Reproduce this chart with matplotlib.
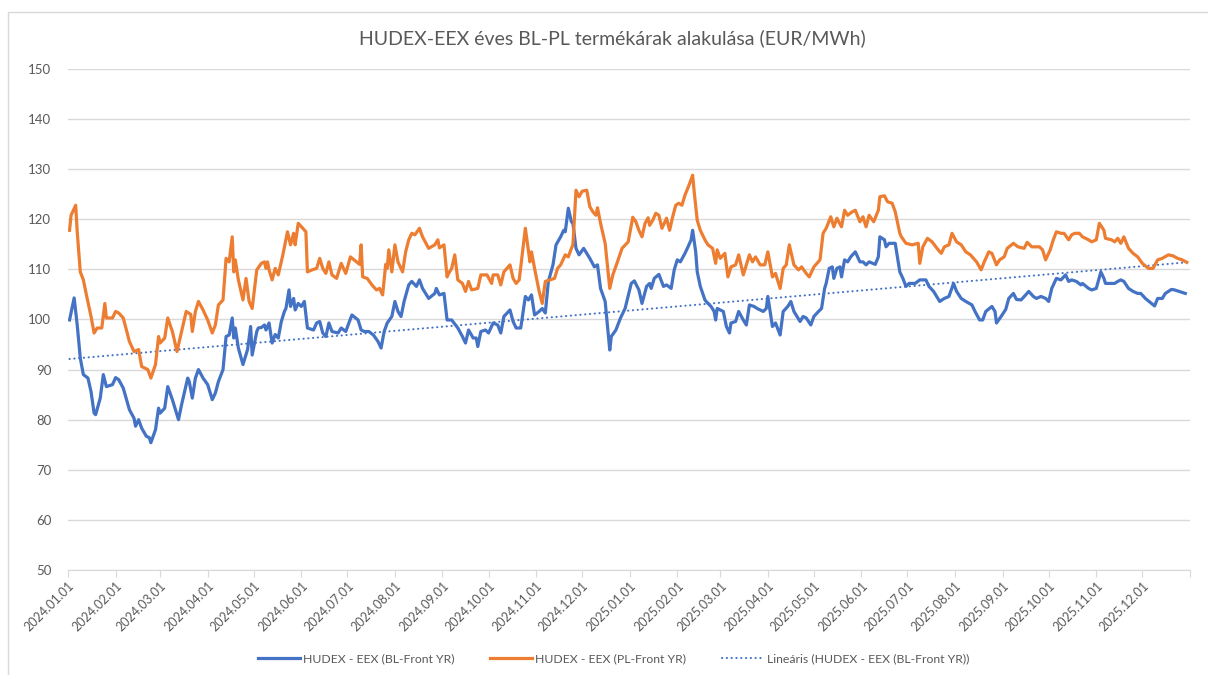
import numpy as np
import matplotlib
matplotlib.use("Agg")
import matplotlib.pyplot as plt
import matplotlib.dates as mdates
from matplotlib.patches import Rectangle

# data (day offset from 2024-01-01, EUR/MWh)
bl_days = [1, 4, 6, 8, 10, 13, 15, 17, 18, 21, 23, 25, 29, 31, 33, 36, 40, 43, 44, 46, 48, 51, 53, 54, 57, 59,
           60, 63, 65, 68, 72, 74, 78, 79, 81, 83, 85, 88, 91, 94, 96, 98, 101, 103, 105, 107, 108, 109, 111,
           114, 117, 119, 120, 123, 124, 126, 128, 129, 131, 133, 135, 137, 139, 141, 142, 144, 145, 147, 148,
           150, 152, 154, 156, 160, 162, 164, 166, 168, 170, 172, 176, 178, 181, 183, 185, 189, 191, 193, 196,
           199, 202, 204, 206, 208, 211, 213, 215, 217, 219, 222, 224, 227, 229, 231, 235, 239, 240, 242, 245,
           247, 250, 254, 257, 259, 261, 264, 266, 267, 269, 272, 274, 277, 280, 282, 284, 288, 290, 292, 295,
           298, 300, 302, 304, 307, 309, 311, 313, 316, 318, 321, 323, 324, 326, 328, 329, 331, 333, 336, 340,
           343, 345, 347, 350, 353, 354, 357, 360, 363, 367, 369, 372, 374, 377, 379, 380, 382, 385, 388, 390,
           393, 395, 397, 399, 402, 404, 406, 407, 409, 410, 412, 415, 417, 419, 421, 422, 423, 427, 429, 431,
           432, 435, 437, 440, 442, 444, 447, 449, 453, 455, 456, 459, 461, 464, 466, 469, 471, 473, 477, 479,
           481, 484, 486, 489, 491, 493, 494, 496, 498, 499, 501, 503, 504, 506, 508, 510, 513, 516, 518, 520,
           522, 526, 528, 529, 532, 533, 535, 539, 542, 544, 546, 548, 552, 555, 559, 561, 564, 568, 571, 574,
           577, 579, 582, 585, 589, 591, 594, 596, 598, 602, 604, 605, 608, 611, 613, 616, 618, 621, 624, 626,
           629, 631, 634, 637, 639, 641, 644, 647, 650, 652, 654, 657, 660, 661, 665, 667, 670, 673, 675, 676,
           680, 682, 684, 686, 688, 691, 694, 697, 699, 702, 706, 708, 710, 713, 715, 719, 721, 724, 728]
bl_vals = [99.9, 104.3, 98.9, 92.3, 89.0, 88.3, 85.6, 81.3, 81.0, 84.3, 89.0, 86.6, 87.0, 88.4, 88.0, 86.3,
           82.0, 80.3, 78.7, 80.0, 78.3, 76.7, 76.4, 75.4, 78.0, 82.3, 81.3, 82.3, 86.6, 84.0, 80.0, 83.0, 88.3,
           87.6, 84.3, 88.3, 90.0, 88.3, 87.0, 84.0, 85.3, 87.6, 90.0, 96.6, 96.9, 100.3, 96.3, 98.3, 94.3, 91.0,
           94.0, 98.6, 92.9, 97.6, 98.3, 98.4, 98.9, 97.9, 99.3, 95.3, 97.0, 96.3, 99.6, 101.6, 102.2, 105.9,
           102.6, 104.2, 101.9, 103.2, 102.6, 103.6, 98.3, 97.9, 99.3, 99.6, 97.3, 96.6, 99.3, 97.6, 97.3, 98.3,
           97.6, 99.3, 100.9, 99.9, 97.9, 97.6, 97.6, 96.9, 95.6, 94.3, 97.6, 99.3, 100.6, 103.6, 101.6, 100.6,
           103.6, 106.9, 107.6, 106.6, 107.9, 106.2, 104.2, 105.2, 106.2, 104.9, 105.2, 99.9, 99.9, 98.3, 96.6,
           95.3, 97.9, 96.3, 96.3, 94.6, 97.6, 97.9, 97.3, 99.3, 98.9, 97.3, 100.6, 101.9, 99.6, 98.3, 98.3,
           104.6, 103.9, 104.9, 100.9, 101.6, 102.2, 101.3, 107.6, 110.9, 114.9, 116.5, 117.8, 117.5, 122.2,
           119.5, 119.2, 114.2, 112.9, 114.2, 112.2, 110.5, 110.9, 106.2, 103.6, 93.9, 96.6, 97.9, 100.3, 102.2,
           107.2, 107.7, 105.9, 103.2, 106.6, 107.2, 106.2, 108.2, 109.0, 106.6, 106.9, 106.2, 109.9, 111.9,
           111.5, 113.2, 114.5, 115.9, 117.8, 113.5, 109.5, 106.6, 103.9, 103.2, 102.6, 101.6, 99.9, 102.2,
           101.6, 98.6, 97.3, 99.3, 99.6, 101.6, 99.9, 98.9, 102.9, 102.6, 102.2, 101.6, 102.2, 104.6, 98.6,
           99.3, 96.9, 101.6, 102.6, 103.6, 101.6, 99.6, 100.6, 100.3, 98.9, 100.6, 101.6, 102.2, 106.2, 107.2,
           110.2, 110.5, 108.2, 110.2, 110.5, 108.5, 111.9, 111.5, 112.5, 113.5, 111.5, 111.5, 110.9, 111.5,
           111.0, 112.5, 116.5, 115.9, 114.5, 115.2, 115.2, 109.5, 108.2, 106.6, 107.2, 107.2, 107.9, 107.9,
           106.6, 105.6, 103.6, 104.2, 104.6, 107.2, 105.6, 104.2, 103.6, 102.9, 101.6, 99.9, 99.9, 101.6, 102.6,
           101.6, 99.3, 100.6, 102.0, 104.2, 105.2, 104.0, 103.9, 104.9, 105.6, 104.6, 104.2, 104.6, 104.2,
           103.6, 106.2, 108.2, 107.9, 108.9, 107.6, 107.9, 107.6, 106.9, 107.2, 106.2, 105.9, 106.2, 109.5,
           108.2, 107.2, 107.2, 107.2, 107.6, 107.9, 107.6, 106.2, 105.6, 105.2, 105.2, 104.2, 103.2, 102.7,
           104.2, 104.2, 105.2, 106.0, 105.9, 105.6, 105.2]

pl_days = [1, 2, 5, 6, 8, 10, 12, 15, 17, 19, 22, 24, 25, 29, 31, 33, 36, 40, 43, 46, 48, 52, 54, 57, 59, 60,
           63, 65, 68, 71, 73, 77, 80, 81, 83, 85, 88, 91, 94, 96, 98, 101, 103, 105, 107, 108, 109, 111, 114,
           116, 118, 120, 123, 126, 128, 129, 130, 131, 133, 135, 137, 140, 143, 145, 147, 148, 150, 153, 155,
           156, 159, 162, 164, 166, 168, 170, 172, 175, 178, 181, 184, 188, 190, 191, 192, 195, 198, 201, 203,
           205, 207, 208, 209, 211, 213, 215, 218, 220, 222, 224, 226, 229, 231, 235, 239, 241, 242, 245, 247,
           248, 250, 252, 254, 257, 259, 261, 263, 267, 269, 273, 276, 277, 280, 282, 284, 288, 290, 292, 294,
           298, 301, 302, 304, 307, 309, 311, 314, 317, 319, 321, 324, 326, 328, 329, 331, 333, 335, 338, 340,
           342, 344, 345, 347, 350, 353, 355, 358, 361, 365, 368, 370, 372, 374, 376, 378, 379, 381, 383, 385,
           387, 390, 392, 394, 396, 398, 400, 402, 405, 407, 408, 410, 412, 415, 417, 420, 422, 423, 425, 428,
           430, 432, 435, 437, 440, 442, 444, 446, 448, 451, 454, 456, 459, 461, 464, 466, 468, 470, 473, 476,
           478, 481, 483, 486, 490, 492, 494, 497, 499, 501, 504, 506, 508, 511, 513, 516, 518, 520, 522, 525,
           528, 529, 532, 534, 537, 539, 542, 543, 546, 550, 554, 555, 557, 560, 563, 567, 569, 571, 574, 576,
           579, 582, 585, 588, 592, 595, 597, 600, 602, 605, 607, 610, 612, 616, 619, 623, 625, 628, 630, 633,
           635, 637, 640, 642, 644, 647, 649, 652, 654, 656, 659, 661, 665, 667, 670, 672, 675, 676, 680, 682,
           684, 686, 688, 691, 694, 697, 700, 704, 707, 710, 713, 717, 720, 723, 726, 729]
pl_vals = [117.8, 120.8, 122.8, 117.5, 109.5, 107.9, 104.9, 100.6, 97.3, 98.3, 98.3, 103.2, 100.3, 100.3,
           101.6, 101.3, 100.3, 95.6, 93.6, 94.0, 90.6, 90.0, 88.3, 91.0, 96.6, 95.3, 96.3, 100.3, 97.6, 93.6,
           96.3, 101.6, 101.0, 97.6, 101.6, 103.6, 101.9, 99.9, 97.3, 98.9, 102.9, 103.9, 112.2, 111.5, 116.5,
           109.5, 111.9, 107.9, 103.9, 108.2, 103.6, 102.2, 109.9, 111.2, 111.5, 110.2, 111.5, 109.9, 107.9,
           110.2, 108.9, 112.9, 117.5, 114.9, 117.2, 114.9, 119.2, 118.2, 117.5, 109.5, 109.9, 110.2, 112.2,
           110.2, 109.2, 111.5, 108.9, 108.2, 111.2, 109.2, 112.5, 111.5, 111.0, 114.9, 108.5, 108.2, 106.9,
           105.9, 106.2, 104.9, 111.0, 110.2, 113.9, 109.5, 114.9, 111.5, 109.5, 113.5, 115.9, 117.2, 116.9,
           118.2, 116.5, 114.2, 114.9, 115.9, 114.3, 114.9, 108.5, 109.2, 110.2, 112.9, 107.9, 107.2, 105.6,
           107.6, 105.9, 106.2, 108.9, 108.9, 107.2, 108.9, 108.9, 106.9, 109.5, 110.9, 108.2, 107.2, 107.9,
           118.2, 111.5, 113.5, 110.2, 105.6, 103.2, 107.6, 107.9, 108.2, 110.2, 110.9, 112.9, 112.5, 114.2,
           114.9, 125.8, 124.5, 125.6, 125.8, 122.5, 121.5, 120.8, 122.3, 119.2, 115.2, 106.2, 108.9, 111.5,
           114.2, 115.5, 120.4, 119.5, 117.8, 116.5, 119.2, 120.3, 118.8, 119.8, 121.2, 120.8, 118.2, 120.2,
           117.8, 120.5, 122.8, 123.2, 122.8, 124.8, 127.1, 128.8, 125.5, 119.8, 117.8, 115.9, 114.9, 114.2,
           111.2, 113.9, 112.2, 113.2, 108.5, 110.5, 110.9, 112.9, 108.9, 110.9, 112.9, 111.5, 112.5, 110.9,
           110.9, 113.5, 108.5, 109.2, 106.2, 110.2, 110.9, 114.9, 110.9, 109.9, 110.5, 109.2, 108.5, 110.5,
           111.9, 117.2, 118.2, 120.5, 118.5, 120.2, 118.5, 121.8, 120.8, 121.5, 121.8, 119.5, 120.5, 118.5,
           120.8, 119.5, 121.8, 124.5, 124.7, 123.5, 123.2, 121.5, 117.2, 116.5, 115.2, 114.9, 115.2, 111.2,
           114.5, 116.2, 115.5, 113.9, 113.2, 114.5, 114.9, 117.2, 115.5, 114.9, 113.5, 112.9, 111.5, 109.9,
           111.5, 113.5, 113.2, 110.9, 111.9, 112.5, 114.2, 115.2, 114.5, 114.2, 115.4, 114.5, 114.5, 114.5,
           113.9, 111.9, 113.9, 115.9, 117.5, 117.2, 117.2, 115.9, 116.9, 117.2, 117.2, 116.5, 115.9, 115.5,
           115.9, 119.2, 117.8, 116.2, 115.9, 115.5, 116.2, 115.2, 116.5, 114.2, 113.2, 112.5, 111.2, 110.2,
           110.2, 111.9, 112.2, 112.9, 112.7, 112.2, 111.9, 111.4]

title = "HUDEX-EEX éves BL-PL termékárak alakulása (EUR/MWh)"
bl_label = "HUDEX - EEX (BL-Front YR)"
pl_label = "HUDEX - EEX (PL-Front YR)"
trend_label = "Lineáris (HUDEX - EEX (BL-Front YR))"

BLUE = "#4472C4"
ORANGE = "#ED7D31"
GREY = "#595959"

plt.rcParams["font.family"] = ["Lato", "DejaVu Sans"]

start = np.datetime64("2024-01-01")
end = np.datetime64("2026-01-01")
bl_dates = start + np.array(bl_days).astype("timedelta64[D]")
pl_dates = start + np.array(pl_days).astype("timedelta64[D]")

# linear trend of the BL series, like Excel's trendline
coef = np.polyfit(bl_days, bl_vals, 1)
trend_days = np.array([bl_days[0], bl_days[-1]])
trend_vals = np.polyval(coef, trend_days)
trend_dates = start + trend_days.astype("timedelta64[D]")

fig = plt.figure(figsize=(12.08, 6.75), dpi=100)
# chart border (only left and top edges fall inside the picture)
top = 1 - 12 / 675
fig.patches.append(Rectangle((8 / 1208, -0.05), 1.1, top + 0.05, transform=fig.transFigure,
                             fill=False, edgecolor="#d9d9d9", linewidth=1))
ax = fig.add_axes([0.0563, 0.1556, 0.9287, 0.7422])

ax.plot(bl_dates, bl_vals, color=BLUE, lw=2.3, solid_joinstyle="round", label=bl_label, zorder=3)
ax.plot(pl_dates, pl_vals, color=ORANGE, lw=2.3, solid_joinstyle="round", label=pl_label, zorder=3)
ax.plot(trend_dates, trend_vals, color=BLUE, lw=1.5, linestyle=(0, (0.1, 2.2)),
        dash_capstyle="round", label=trend_label, zorder=2)

ax.set_ylim(50, 150)
ax.set_yticks(np.arange(50, 151, 10))
ax.set_xlim(start, end)
ax.xaxis.set_major_locator(mdates.MonthLocator())
datefmt = mdates.DateFormatter("%Y.%m.%d")
ax.xaxis.set_major_formatter(lambda x, pos: "" if x >= mdates.date2num(end) - 0.5 else datefmt(x, pos))

ax.grid(axis="y", color="#d9d9d9", lw=1)
ax.set_axisbelow(True)
for s in ["top", "right", "left"]:
    ax.spines[s].set_visible(False)
ax.spines["bottom"].set_color("#d9d9d9")
ax.tick_params(axis="y", length=0, pad=12, labelsize=9.5, labelcolor=GREY)
ax.tick_params(axis="x", length=5, color="#d9d9d9", pad=2, labelsize=9, labelcolor=GREY)
for lab in ax.get_xticklabels():
    lab.set_rotation(45)
    lab.set_ha("right")
    lab.set_rotation_mode("anchor")

fig.text(0.507, 0.944, title, ha="center", va="center", fontsize=14, color=GREY)

fig.legend(loc="lower center", bbox_to_anchor=(0.508, 0.0), ncol=3, frameon=False,
           fontsize=8.8, labelcolor=GREY, handlelength=3.4, columnspacing=2.9, handletextpad=0.3)

fig.savefig("out.png", dpi=100)
